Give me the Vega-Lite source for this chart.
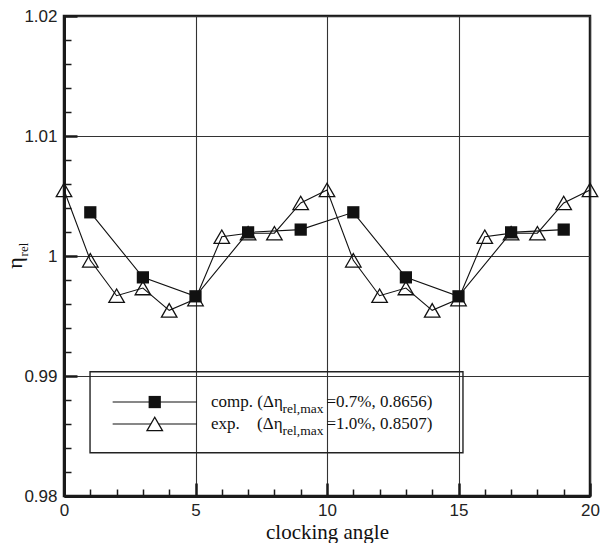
{
  "$schema": "https://vega.github.io/schema/vega-lite/v6.json",
  "autosize": "none",
  "width": 526,
  "height": 480,
  "padding": {"left": 64, "top": 16, "right": 10, "bottom": 47},
  "background": "white",
  "config": {
    "view": {"stroke": "#1a1a1a", "strokeWidth": 2.5},
    "axis": {"labelFont": "Liberation Sans", "labelFontSize": 17, "labelColor": "#222", "titleFont": "Liberation Serif", "titleFontWeight": "normal", "titleColor": "#111"}
  },
  "datasets": {
    "series": [
      {"angle": 0, "eta": 1.0055, "case": "exp"},
      {"angle": 1, "eta": 0.99964, "case": "exp"},
      {"angle": 2, "eta": 0.99669, "case": "exp"},
      {"angle": 3, "eta": 0.99733, "case": "exp"},
      {"angle": 4, "eta": 0.99547, "case": "exp"},
      {"angle": 5, "eta": 0.99641, "case": "exp"},
      {"angle": 6, "eta": 1.00161, "case": "exp"},
      {"angle": 7, "eta": 1.0019, "case": "exp"},
      {"angle": 8, "eta": 1.0019, "case": "exp"},
      {"angle": 9, "eta": 1.00442, "case": "exp"},
      {"angle": 10, "eta": 1.0055, "case": "exp"},
      {"angle": 11, "eta": 0.99964, "case": "exp"},
      {"angle": 12, "eta": 0.99669, "case": "exp"},
      {"angle": 13, "eta": 0.99733, "case": "exp"},
      {"angle": 14, "eta": 0.99547, "case": "exp"},
      {"angle": 15, "eta": 0.99641, "case": "exp"},
      {"angle": 16, "eta": 1.00161, "case": "exp"},
      {"angle": 17, "eta": 1.0019, "case": "exp"},
      {"angle": 18, "eta": 1.0019, "case": "exp"},
      {"angle": 19, "eta": 1.00442, "case": "exp"},
      {"angle": 20, "eta": 1.0055, "case": "exp"},
      {"angle": 1, "eta": 1.00364, "case": "comp"},
      {"angle": 3, "eta": 0.99822, "case": "comp"},
      {"angle": 5, "eta": 0.99664, "case": "comp"},
      {"angle": 7, "eta": 1.00197, "case": "comp"},
      {"angle": 9, "eta": 1.0022, "case": "comp"},
      {"angle": 11, "eta": 1.00364, "case": "comp"},
      {"angle": 13, "eta": 0.99822, "case": "comp"},
      {"angle": 15, "eta": 0.99664, "case": "comp"},
      {"angle": 17, "eta": 1.00197, "case": "comp"},
      {"angle": 19, "eta": 1.0022, "case": "comp"}
    ],
    "legendBox": [{"x1": 0.99, "x2": 15.17, "y1": 0.98361, "y2": 0.99036}],
    "legendItems": [
      {"case": "comp", "x1": 1.85, "x2": 5.05, "xm": 3.45, "y": 0.98783},
      {"case": "exp", "x1": 1.85, "x2": 5.05, "xm": 3.45, "y": 0.986}
    ],
    "mainText": [
      {"x": 5.59, "y": 0.98742, "t": "comp. (Δη"},
      {"x": 9.98, "y": 0.98742, "t": "=0.7%, 0.8656)"},
      {"x": 5.59, "y": 0.98555, "t": "exp."},
      {"x": 7.34, "y": 0.98555, "t": "(Δη"},
      {"x": 9.98, "y": 0.98555, "t": "=1.0%, 0.8507)"}
    ],
    "subText": [
      {"x": 8.31, "y": 0.98694, "t": "rel,max"},
      {"x": 8.31, "y": 0.98508, "t": "rel,max"}
    ],
    "yTitle": [{"x": -1.6, "y": 0.99942, "t": "η"}],
    "yTitleSub": [{"x": -1.37, "y": 1.00054, "t": "rel"}]
  },
  "layer": [
    {
      "data": {"name": "series"},
      "transform": [{"filter": "datum.case === 'exp'"}],
      "mark": {"type": "line", "color": "#111", "strokeWidth": 1.1},
      "encoding": {
        "x": {
          "field": "angle", "type": "quantitative",
          "scale": {"domain": [0, 20], "nice": false, "zero": false},
          "axis": {
            "values": [0,1,2,3,4,5,6,7,8,9,10,11,12,13,14,15,16,17,18,19,20],
            "tickCount": 40,
            "title": "clocking angle",
            "titleFontSize": 21,
            "titlePadding": -3,
            "labelFlush": false,
            "labelOverlap": false,
            "labelExpr": "datum.value % 5 === 0 ? format(datum.value, 'd') : ''",
            "labelPadding": 19,
            "grid": true,
            "gridColor": "#333",
            "gridWidth": 1.1,
            "gridOpacity": {"condition": {"test": "datum.value % 5 === 0", "value": 1}, "value": 0},
            "tickSize": {"condition": {"test": "datum.value % 5 === 0", "value": -13}, "value": -7},
            "tickWidth": {"condition": {"test": "datum.value % 5 === 0", "value": 2.5}, "value": 1.5},
            "tickColor": "#1a1a1a",
            "domainColor": "#1a1a1a",
            "domainWidth": 3
          }
        },
        "y": {
          "field": "eta", "type": "quantitative",
          "scale": {"domain": [0.98, 1.02], "nice": false, "zero": false},
          "axis": {
            "values": [0.98,0.982,0.984,0.986,0.988,0.99,0.992,0.994,0.996,0.998,1,1.002,1.004,1.006,1.008,1.01,1.012,1.014,1.016,1.018,1.02],
            "tickCount": 40,
            "title": null,
            "labelFlush": false,
            "labelOverlap": false,
            "labelExpr": "abs(datum.value*100 - round(datum.value*100)) < 1e-6 ? format(datum.value, '~g') : ''",
            "labelPadding": 20,
            "grid": true,
            "gridColor": "#333",
            "gridWidth": 1.1,
            "gridOpacity": {"condition": {"test": "abs(datum.value*100 - round(datum.value*100)) < 1e-6", "value": 1}, "value": 0},
            "tickSize": {"condition": {"test": "abs(datum.value*100 - round(datum.value*100)) < 1e-6", "value": -13}, "value": -7},
            "tickWidth": {"condition": {"test": "abs(datum.value*100 - round(datum.value*100)) < 1e-6", "value": 2.5}, "value": 1.5},
            "tickColor": "#1a1a1a",
            "domainColor": "#1a1a1a",
            "domainWidth": 3
          }
        }
      }
    },
    {
      "data": {"name": "series"},
      "transform": [{"filter": "datum.case === 'exp'"}],
      "mark": {"type": "point", "shape": "triangle-up", "size": 240, "filled": false, "stroke": "#111", "strokeWidth": 1.3, "opacity": 1},
      "encoding": {
        "x": {"field": "angle", "type": "quantitative", "scale": {"domain": [0, 20], "nice": false, "zero": false}},
        "y": {"field": "eta", "type": "quantitative", "scale": {"domain": [0.98, 1.02], "nice": false, "zero": false}}
      }
    },
    {
      "data": {"name": "series"},
      "transform": [{"filter": "datum.case === 'comp'"}],
      "mark": {"type": "line", "color": "#111", "strokeWidth": 1.1},
      "encoding": {
        "x": {"field": "angle", "type": "quantitative", "scale": {"domain": [0, 20], "nice": false, "zero": false}},
        "y": {"field": "eta", "type": "quantitative", "scale": {"domain": [0.98, 1.02], "nice": false, "zero": false}}
      }
    },
    {
      "data": {"name": "series"},
      "transform": [{"filter": "datum.case === 'comp'"}],
      "mark": {"type": "point", "shape": "square", "size": 150, "filled": true, "color": "#111", "opacity": 1},
      "encoding": {
        "x": {"field": "angle", "type": "quantitative", "scale": {"domain": [0, 20], "nice": false, "zero": false}},
        "y": {"field": "eta", "type": "quantitative", "scale": {"domain": [0.98, 1.02], "nice": false, "zero": false}}
      }
    },
    {
      "data": {"name": "legendBox"},
      "mark": {"type": "rect", "fill": null, "fillOpacity": 0, "stroke": "#222", "strokeWidth": 1.4},
      "encoding": {
        "x": {"field": "x1", "type": "quantitative", "scale": {"domain": [0, 20], "nice": false, "zero": false}},
        "x2": {"field": "x2"},
        "y": {"field": "y1", "type": "quantitative", "scale": {"domain": [0.98, 1.02], "nice": false, "zero": false}},
        "y2": {"field": "y2"}
      }
    },
    {
      "data": {"name": "legendItems"},
      "mark": {"type": "rule", "color": "#111", "strokeWidth": 1.1},
      "encoding": {
        "x": {"field": "x1", "type": "quantitative", "scale": {"domain": [0, 20], "nice": false, "zero": false}},
        "x2": {"field": "x2"},
        "y": {"field": "y", "type": "quantitative", "scale": {"domain": [0.98, 1.02], "nice": false, "zero": false}}
      }
    },
    {
      "data": {"name": "legendItems"},
      "transform": [{"filter": "datum.case === 'exp'"}],
      "mark": {"type": "point", "shape": "triangle-up", "size": 240, "filled": true, "fill": "white", "stroke": "#111", "strokeWidth": 1.3, "opacity": 1},
      "encoding": {
        "x": {"field": "xm", "type": "quantitative", "scale": {"domain": [0, 20], "nice": false, "zero": false}},
        "y": {"field": "y", "type": "quantitative", "scale": {"domain": [0.98, 1.02], "nice": false, "zero": false}}
      }
    },
    {
      "data": {"name": "legendItems"},
      "transform": [{"filter": "datum.case === 'comp'"}],
      "mark": {"type": "point", "shape": "square", "size": 150, "filled": true, "color": "#111", "opacity": 1},
      "encoding": {
        "x": {"field": "xm", "type": "quantitative", "scale": {"domain": [0, 20], "nice": false, "zero": false}},
        "y": {"field": "y", "type": "quantitative", "scale": {"domain": [0.98, 1.02], "nice": false, "zero": false}}
      }
    },
    {
      "data": {"name": "mainText"},
      "mark": {"type": "text", "font": "Liberation Serif", "fontSize": 17, "align": "left", "baseline": "alphabetic", "color": "#111"},
      "encoding": {
        "x": {"field": "x", "type": "quantitative", "scale": {"domain": [0, 20], "nice": false, "zero": false}},
        "y": {"field": "y", "type": "quantitative", "scale": {"domain": [0.98, 1.02], "nice": false, "zero": false}},
        "text": {"field": "t"}
      }
    },
    {
      "data": {"name": "subText"},
      "mark": {"type": "text", "font": "Liberation Serif", "fontSize": 13.5, "align": "left", "baseline": "alphabetic", "color": "#111"},
      "encoding": {
        "x": {"field": "x", "type": "quantitative", "scale": {"domain": [0, 20], "nice": false, "zero": false}},
        "y": {"field": "y", "type": "quantitative", "scale": {"domain": [0.98, 1.02], "nice": false, "zero": false}},
        "text": {"field": "t"}
      }
    },
    {
      "data": {"name": "yTitle"},
      "mark": {"type": "text", "font": "Liberation Serif", "fontSize": 22, "align": "center", "baseline": "alphabetic", "angle": 270, "color": "#111"},
      "encoding": {
        "x": {"field": "x", "type": "quantitative", "scale": {"domain": [0, 20], "nice": false, "zero": false}},
        "y": {"field": "y", "type": "quantitative", "scale": {"domain": [0.98, 1.02], "nice": false, "zero": false}},
        "text": {"field": "t"}
      }
    },
    {
      "data": {"name": "yTitleSub"},
      "mark": {"type": "text", "font": "Liberation Serif", "fontSize": 13, "align": "center", "baseline": "alphabetic", "angle": 270, "color": "#111"},
      "encoding": {
        "x": {"field": "x", "type": "quantitative", "scale": {"domain": [0, 20], "nice": false, "zero": false}},
        "y": {"field": "y", "type": "quantitative", "scale": {"domain": [0.98, 1.02], "nice": false, "zero": false}},
        "text": {"field": "t"}
      }
    }
  ]
}
